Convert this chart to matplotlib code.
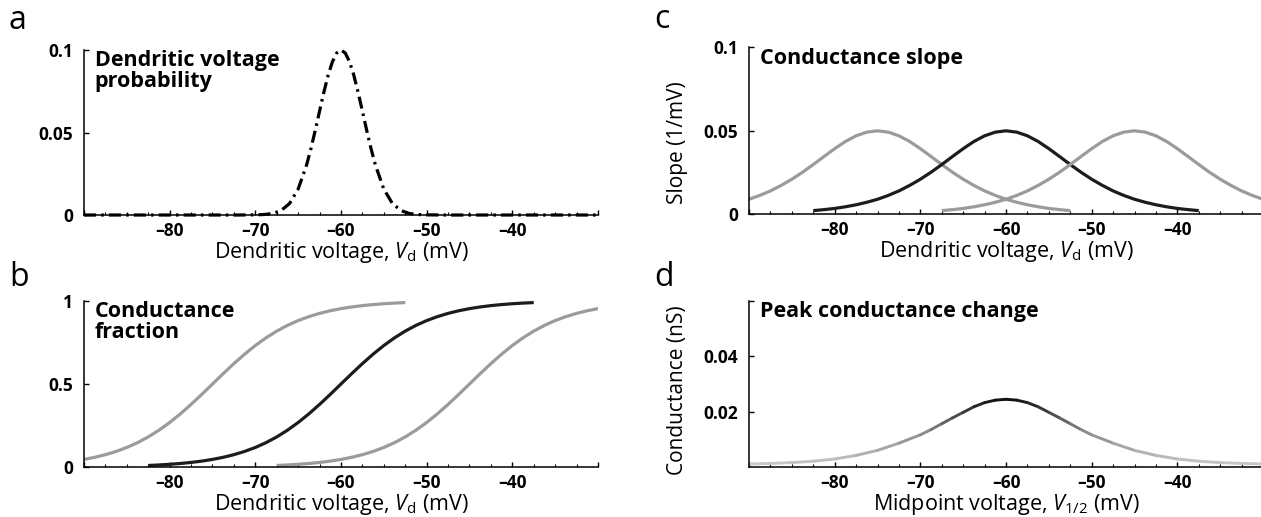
import numpy as np
import matplotlib
matplotlib.use('Agg')
import matplotlib.pyplot as plt
from matplotlib.collections import LineCollection
from matplotlib.colors import LinearSegmentedColormap, Normalize
from matplotlib.ticker import MultipleLocator

plt.rcParams['font.family'] = ['Open Sans', 'DejaVu Sans']
plt.rcParams['mathtext.fontset'] = 'custom'
plt.rcParams['mathtext.rm'] = 'Open Sans'
plt.rcParams['mathtext.it'] = 'Open Sans:italic'

# panel a: dendritic voltage probability
prob_v = [-90, -80, -72, -70, -69, -68, -67, -66, -65, -64, -63.5, -63, -62.5, -62, -61.5,
          -61, -60.5, -60, -59.5, -59, -58.5, -58, -57.5, -57, -56.5, -56, -55, -54,
          -53, -52, -51, -50, -48, -40, -30]
prob = [0, 0, 0, 0.0001, 0.0003, 0.0009, 0.0027, 0.0070, 0.0157, 0.0306, 0.0404, 0.0514, 0.0630,
        0.0744, 0.0847, 0.0929, 0.0982, 0.1, 0.0982, 0.0929, 0.0847, 0.0744, 0.0630, 0.0514,
        0.0404, 0.0306, 0.0157, 0.0070, 0.0027, 0.0009, 0.0003, 0.0001, 0, 0, 0]

# panels b, c: curves vs offset from their midpoint (mV)
offset = [-22.5, -21.25, -20, -18.75, -17.5, -16.25, -15, -13.75, -12.5, -11.25, -10, -8.75,
          -7.5, -6.25, -5, -3.75, -2.5, -1.25, 0, 1.25, 2.5, 3.75, 5, 6.25, 7.5, 8.75, 10,
          11.25, 12.5, 13.75, 15, 16.25, 17.5, 18.75, 20, 21.25, 22.5]
frac = [0.0110, 0.0141, 0.0180, 0.0230, 0.0293, 0.0373, 0.0474, 0.0601, 0.0759, 0.0954,
        0.1192, 0.1480, 0.1824, 0.2227, 0.2689, 0.3208, 0.3775, 0.4378, 0.5, 0.5622, 0.6225,
        0.6792, 0.7311, 0.7773, 0.8176, 0.8520, 0.8808, 0.9046, 0.9241, 0.9399, 0.9526,
        0.9627, 0.9707, 0.9770, 0.9820, 0.9859, 0.9890]
slope = [0.0022, 0.0028, 0.0035, 0.0045, 0.0057, 0.0072, 0.0090, 0.0113, 0.0140, 0.0173,
         0.0210, 0.0252, 0.0298, 0.0346, 0.0393, 0.0436, 0.0470, 0.0492, 0.05, 0.0492, 0.0470,
         0.0436, 0.0393, 0.0346, 0.0298, 0.0252, 0.0210, 0.0173, 0.0140, 0.0113, 0.0090,
         0.0072, 0.0057, 0.0045, 0.0035, 0.0028, 0.0022]
midpoints = [-75, -60, -45]

# panel d: peak conductance change
peak_v = [-90, -87.5, -85, -82.5, -80, -77.5, -75, -72.5, -70, -68.75, -67.5, -66.25, -65,
          -63.75, -62.5, -61.25, -60, -58.75, -57.5, -56.25, -55, -53.75, -52.5, -51.25, -50,
          -47.5, -45, -42.5, -40, -37.5, -35, -32.5, -30]
peak_g = [0.0012, 0.0014, 0.0017, 0.0022, 0.0030, 0.0043, 0.0061, 0.0087, 0.0117, 0.0136,
          0.0157, 0.0178, 0.0198, 0.0218, 0.0233, 0.0242, 0.0245, 0.0242, 0.0233, 0.0218,
          0.0198, 0.0178, 0.0157, 0.0136, 0.0117, 0.0087, 0.0061, 0.0043, 0.0030, 0.0022,
          0.0017, 0.0014, 0.0012]

xtick_vals = [-90, -80, -70, -60, -50, -40, -30]
xtick_labels = ['', '\u201380', '\u201370', '\u201360', '\u201350', '\u201340', '']

BLACK = '#1c1c1c'
GREY = '#9b9b9b'

fig = plt.figure(figsize=(12.61, 5.17), dpi=100)
ax_a = fig.add_axes([0.0666, 0.5841, 0.4076, 0.3191])
ax_b = fig.add_axes([0.0666, 0.0961, 0.4076, 0.3222])
ax_c = fig.add_axes([0.594, 0.5855, 0.4076, 0.3230])
ax_d = fig.add_axes([0.594, 0.0961, 0.4076, 0.3222])


def style(ax, yticks, ylabels, ylim):
    ax.spines[['top', 'right']].set_visible(False)
    ax.spines['left'].set_linewidth(1.1)
    ax.spines['bottom'].set_linewidth(1.1)
    ax.set_xlim(-90, -30)
    ax.set_ylim(*ylim)
    ax.set_xticks(xtick_vals)
    ax.set_xticklabels(xtick_labels)
    ax.xaxis.set_minor_locator(MultipleLocator(2.5))
    ax.tick_params(axis='x', which='major', direction='in', length=3.5, width=1, pad=5, labelsize=12.5)
    ax.tick_params(axis='x', which='minor', direction='in', length=2.2, width=0.8)
    ax.set_yticks(yticks)
    ax.set_yticklabels(ylabels)
    ax.tick_params(axis='y', direction='in', length=3.5, width=1, pad=8, labelsize=12.5)
    for lab in ax.get_xticklabels() + ax.get_yticklabels():
        lab.set_fontweight('bold')


def title(ax, txt):
    ax.text(0.021, 0.998, txt, transform=ax.transAxes, ha='left', va='top',
            fontsize=15.5, fontweight='bold', linespacing=1.0)


vd_label = r'Dendritic voltage, $V_{\rm d}$ (mV)'
LABEL_FS = 15.5

# a
ax_a.plot(prob_v, prob, color='black', lw=2.3, linestyle=(0, (3.8, 1.6, 0.8, 1.6)),
          clip_on=False)
style(ax_a, [0, 0.05, 0.1], ['0', '0.05', '0.1'], (0, 0.1))
ax_a.set_xlabel(vd_label, fontsize=LABEL_FS, labelpad=0)
title(ax_a, 'Dendritic voltage\nprobability')

# b
for m, col in zip(midpoints, [GREY, BLACK, GREY]):
    ax_b.plot(np.array(offset) + m, frac, color=col, lw=2.3, solid_capstyle='butt')
style(ax_b, [0, 0.5, 1], ['0', '0.5', '1'], (0, 1))
ax_b.set_xlabel(vd_label, fontsize=LABEL_FS, labelpad=0)
title(ax_b, 'Conductance\nfraction')

# c
for m, col in zip(midpoints, [GREY, BLACK, GREY]):
    ax_c.plot(np.array(offset) + m, slope, color=col, lw=2.3, solid_capstyle='butt')
style(ax_c, [0, 0.05, 0.1], ['0', '0.05', '0.1'], (0, 0.1))
ax_c.set_xlabel(vd_label, fontsize=LABEL_FS, labelpad=0)
ax_c.set_ylabel('Slope (1/mV)', fontsize=LABEL_FS - 0.5)
ax_c.yaxis.set_label_coords(-0.118, 0.43)
title(ax_c, 'Conductance slope')

# d: shaded line, grey in the tails, black at the peak
pts = np.column_stack([peak_v, peak_g])
segs = np.stack([pts[:-1], pts[1:]], axis=1)
seg_val = (np.array(peak_g[:-1]) + np.array(peak_g[1:])) / 2
cmap = LinearSegmentedColormap.from_list('fade', ['#c8c8c8', '#8a8a8a', '#111111'])
lc = LineCollection(segs, cmap=cmap, norm=Normalize(0.001, 0.0245), linewidths=2.1,
                    capstyle='round')
lc.set_array(seg_val)
ax_d.add_collection(lc)
style(ax_d, [0.02, 0.04, 0.06], ['0.02', '0.04', ''], (0, 0.06))
ax_d.set_xlabel(r'Midpoint voltage, $V_{1/2}$ (mV)', fontsize=LABEL_FS, labelpad=0)
ax_d.set_ylabel('Conductance (nS)', fontsize=LABEL_FS - 0.5)
ax_d.yaxis.set_label_coords(-0.118, 0.465)
title(ax_d, 'Peak conductance change')

for lt, x, y in [('a', 0.007, 0.943), ('b', 0.007, 0.446), ('c', 0.519, 0.945), ('d', 0.519, 0.446)]:
    fig.text(x, y, lt, fontsize=23, va='baseline', ha='left')

fig.savefig('out.png', dpi=100)
